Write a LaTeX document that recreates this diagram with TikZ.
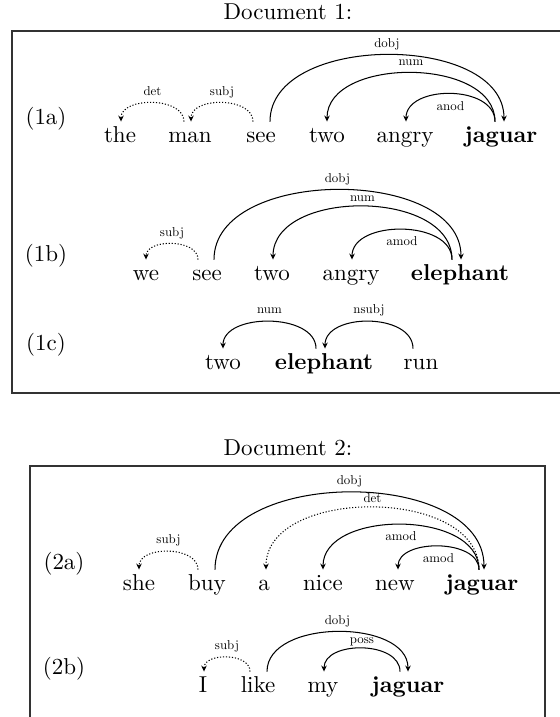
\documentclass[tikz,border=0pt]{standalone}
\usetikzlibrary{arrows.meta,calc}
% small upright labels for the dependency arcs
\font\deplabfont=cmr10 at 5.6pt
\begin{document}
\begin{tikzpicture}[x=0.435pt,y=-0.435pt,
  word/.style={anchor=base,inner sep=0pt,text height=8.7pt,text depth=0pt},
  tag/.style={anchor=base,inner sep=0pt},
  title/.style={anchor=base,inner sep=0pt},
  frame/.style={draw=black!80,line width=0.5pt},
  dep/.style={line width=0.45pt,-{Stealth[length=2.6pt,width=2.4pt]}},
  depdot/.style={dep,dash pattern=on 0.5pt off 0.8pt},
  lab/.style={font=\deplabfont,inner sep=2pt,text height=3.9pt,text depth=1.1pt},
  labtight/.style={lab,inner sep=0.8pt},
  labin/.style={lab,inner sep=3pt}]
\useasboundingbox (0,0) rectangle (560,717);
\clip (0,0) rectangle (560,717);

% ---------------- Document 1 ----------------
\node[title] (t1) at (288,19) {Document 1:};
\draw[frame] (12,31) rectangle (564,393);

% (1a)
\node[tag] (l1a) at (46,124) {(1a)};
\node[word] (aThe)   at (120,142) {the};
\node[word] (aMan)   at (190,142) {man};
\node[word] (aSee)   at (261,142) {see};
\node[word] (aTwo)   at (327,142) {two};
\node[word] (aAngry) at (405,142) {angry};
\node[word] (aJag)   at (501,142) {\textbf{jaguar}};
\draw[depdot] ($(aMan.north)+(-6,0)$) .. controls +(0,-25) and +(0,-25) .. ($(aThe.north)+(1,0)$) node[lab,midway,above]{det};
\draw[depdot] ($(aSee.north)+(-8,0)$) .. controls +(0,-25) and +(0,-25) .. ($(aMan.north)+(1,0)$) node[lab,midway,above]{subj};
\draw[dep] ($(aSee.north)+(9,0)$) .. controls +(0,-89) and +(0,-89) .. ($(aJag.north)+(3,0)$) node[lab,midway,above]{dobj};
\draw[dep] ($(aJag.north)+(-6,0)$) .. controls +(0,-65) and +(0,-65) .. ($(aTwo.north)+(0,0)$) node[lab,midway,above]{num};
\draw[dep] ($(aJag.north)+(-6,0)$) .. controls +(0,-37) and +(0,-37) .. ($(aAngry.north)+(1,0)$) node[labin,midway,below]{anod};

% (1b)
\node[tag] (l1b) at (46,261) {(1b)};
\node[word] (bWe)    at (146,280) {we};
\node[word] (bSee)   at (207,280) {see};
\node[word] (bTwo)   at (272,280) {two};
\node[word] (bAngry) at (351,280) {angry};
\node[word] (bEle)   at (460,280) {\textbf{elephant}};
\draw[depdot] ($(bSee.north)+(-9,0)$) .. controls +(0,-21) and +(0,-21) .. ($(bWe.north)+(0,0)$) node[lab,midway,above]{subj};
\draw[dep] ($(bSee.north)+(7,0)$) .. controls +(0,-93) and +(0,-93) .. ($(bEle.north)+(1,0)$) node[lab,midway,above]{dobj};
\draw[dep] ($(bEle.north)+(-8,0)$) .. controls +(0,-71) and +(0,-71) .. ($(bTwo.north)+(1,0)$) node[labtight,midway,above]{num};
\draw[dep] ($(bEle.north)+(-8,0)$) .. controls +(0,-40) and +(0,-40) .. ($(bAngry.north)+(1,0)$) node[labin,midway,below]{amod};

% (1c)
\node[tag] (l1c) at (46,350) {(1c)};
\node[word] (cTwo) at (223,369) {two};
\node[word] (cEle) at (324,369) {\textbf{elephant}};
\node[word] (cRun) at (421,369) {run};
\draw[dep] ($(cEle.north)+(-8,0)$) .. controls +(0,-36) and +(0,-36) .. ($(cTwo.north)+(0,0)$) node[lab,midway,above]{num};
\draw[dep] ($(cRun.north)+(-8,0)$) .. controls +(0,-36) and +(0,-36) .. ($(cEle.north)+(1,0)$) node[lab,midway,above]{nsubj};

% ---------------- Document 2 ----------------
\node[title] (t2) at (288,455) {Document 2:};
\draw[frame] (30,466) rectangle (545,717.2);

% (2a)
\node[tag] (l2a) at (64,569) {(2a)};
\node[word] (dShe)  at (139,590) {she};
\node[word] (dBuy)  at (207,590) {buy};
\node[word] (dA)    at (264,590) {a};
\node[word] (dNice) at (323,590) {nice};
\node[word] (dNew)  at (395,590) {new};
\node[word] (dJag)  at (482,590) {\textbf{jaguar}};
\draw[depdot] ($(dBuy.north)+(-9,0)$) .. controls +(0,-24) and +(0,-24) .. ($(dShe.north)+(0,0)$) node[lab,midway,above]{subj};
\draw[dep] ($(dBuy.north)+(8,0)$) .. controls +(0,-103) and +(0,-103) .. ($(dJag.north)+(2,0)$) node[lab,midway,above]{dobj};
\draw[depdot] ($(dJag.north)+(-3,0)$) .. controls +(0,-83) and +(0,-83) .. ($(dA.north)+(2,0)$) node[labtight,midway,above]{det};
\draw[dep] ($(dJag.north)+(-3,0)$) .. controls +(0,-60) and +(0,-60) .. ($(dNice.north)+(0,0)$) node[labin,midway,below]{amod};
\draw[dep] ($(dJag.north)+(-3,0)$) .. controls +(0,-31) and +(0,-31) .. ($(dNew.north)+(3,0)$) node[labin,midway,below]{amod};

% (2b)
\node[tag] (l2b) at (64,674) {(2b)};
\node[word] (eI)    at (203,692) {I};
\node[word] (eLike) at (258,692) {like};
\node[word] (eMy)   at (323,692) {my};
\node[word] (eJag)  at (408,692) {\textbf{jaguar}};
\draw[depdot] ($(eLike.north)+(-8,0)$) .. controls +(0,-19) and +(0,-19) .. ($(eI.north)+(1,0)$) node[lab,midway,above]{subj};
\draw[dep] ($(eLike.north)+(9,0)$) .. controls +(0,-53) and +(0,-53) .. ($(eJag.north)+(0,0)$) node[lab,midway,above]{dobj};
\draw[dep] ($(eJag.north)+(-8,0)$) .. controls +(0,-31) and +(0,-31) .. ($(eMy.north)+(1,0)$) node[labtight,midway,above]{poss};
\end{tikzpicture}
\end{document}
